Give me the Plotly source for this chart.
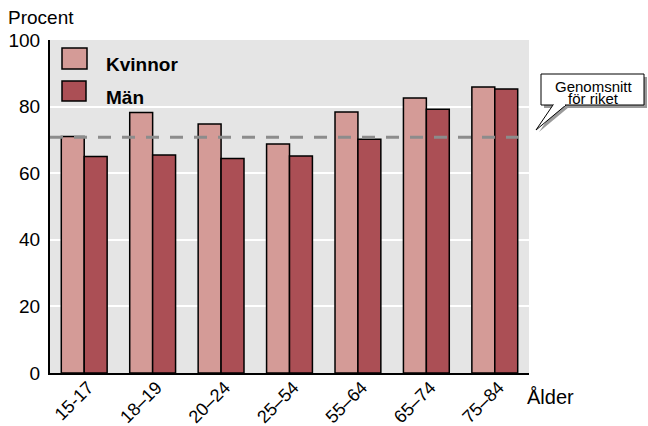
import plotly.graph_objects as go

# Andel per åldersgrupp (procent)
age_groups = ["15-17", "18–19", "20–24", "25–54", "55–64", "65–74", "75–84"]
kvinnor = [71.0, 78.2, 74.8, 68.8, 78.4, 82.6, 85.9]
man = [65.0, 65.5, 64.4, 65.2, 70.2, 79.2, 85.3]
riket = 70.8
y_ticks = [0, 20, 40, 60, 80, 100]

C_KV = "#d49b97"
C_MAN = "#ab4f55"
BG = "#e5e5e5"
FONT = "Liberation Sans, Arial, sans-serif"

W, H = 648, 426
ML, MR, MT, MB = 50, 119, 40, 53
PW, PH = W - ML - MR, H - MT - MB


def px(x):
    return (x - ML) / PW


def py(y):
    return (H - MB - y) / PH


fig = go.Figure()
fig.add_trace(go.Bar(x=age_groups, y=kvinnor, name="Kvinnor",
                     marker=dict(color=C_KV, line=dict(color="black", width=1.5))))
fig.add_trace(go.Bar(x=age_groups, y=man, name="Män",
                     marker=dict(color=C_MAN, line=dict(color="black", width=1.5))))

shapes = [
    # riksgenomsnitt
    dict(type="line", xref="paper", yref="y", x0=0, x1=1, y0=riket, y1=riket,
         line=dict(color="#8c8c8c", width=3, dash="13px,11px"), layer="above"),
    # legend swatches
    dict(type="rect", xref="paper", yref="paper", x0=px(62), x1=px(87), y0=py(69), y1=py(48),
         fillcolor=C_KV, line=dict(color="black", width=1.5)),
    dict(type="rect", xref="paper", yref="paper", x0=px(62), x1=px(86), y0=py(101), y1=py(81),
         fillcolor=C_MAN, line=dict(color="black", width=1.5)),
    # callout shadow
    dict(type="rect", xref="paper", yref="paper", x0=px(544), x1=px(647), y0=py(108), y1=py(77),
         fillcolor="#9a9a9a", line=dict(width=0)),
    dict(type="path", xref="paper", yref="paper",
         path=f"M {px(556)},{py(107)} L {px(539)},{py(132)} L {px(569)},{py(107)} Z",
         fillcolor="#9a9a9a", line=dict(width=0)),
    # callout box
    dict(type="rect", xref="paper", yref="paper", x0=px(541), x1=px(644), y0=py(105), y1=py(74),
         fillcolor="white", line=dict(color="black", width=1)),
    dict(type="path", xref="paper", yref="paper",
         path=f"M {px(553)},{py(105)} L {px(536)},{py(130)} L {px(566)},{py(105)}",
         fillcolor="white", line=dict(color="black", width=1)),
    dict(type="line", xref="paper", yref="paper", x0=px(554), x1=px(565), y0=py(105), y1=py(105),
         line=dict(color="white", width=2)),
]

annotations = [
    dict(text="Procent", xref="paper", yref="paper", x=px(6), y=py(18), xanchor="left",
         yanchor="middle", showarrow=False, font=dict(size=19, color="black", family=FONT)),
    dict(text="Ålder", xref="paper", yref="paper", x=px(525), y=py(397), xanchor="left",
         yanchor="middle", showarrow=False, font=dict(size=20, color="black", family=FONT)),
    dict(text="<b>Kvinnor</b>", xref="paper", yref="paper", x=px(104), y=py(64), xanchor="left",
         yanchor="middle", showarrow=False, font=dict(size=19, color="black", family=FONT)),
    dict(text="<b>Män</b>", xref="paper", yref="paper", x=px(104), y=py(97), xanchor="left",
         yanchor="middle", showarrow=False, font=dict(size=19, color="black", family=FONT)),
    dict(text="Genomsnitt", xref="paper", yref="paper", x=px(594), y=py(86),
         xanchor="center", yanchor="middle", showarrow=False, borderpad=0,
         font=dict(size=15, color="black", family=FONT)),
    dict(text="för riket", xref="paper", yref="paper", x=px(593), y=py(98.5),
         xanchor="center", yanchor="middle", showarrow=False, borderpad=0,
         font=dict(size=15, color="black", family=FONT)),
]

fig.update_layout(
    width=W, height=H,
    margin=dict(l=ML, r=MR, t=MT, b=MB),
    paper_bgcolor="white", plot_bgcolor=BG,
    barmode="group", bargap=0.33, bargroupgap=0,
    showlegend=False,
    font=dict(family=FONT, color="black"),
    shapes=shapes, annotations=annotations,
    xaxis=dict(showgrid=False, showline=True, linecolor="black", linewidth=2,
               tickangle=-45, tickfont=dict(size=18), ticks="", automargin=False,
               ticklabelstandoff=-5, ticklabelshift=4),
    yaxis=dict(range=[0, 100], tickvals=y_ticks, showgrid=True, gridcolor="white", gridwidth=2,
               showline=True, linecolor="black", linewidth=2, zeroline=False,
               tickfont=dict(size=19), ticks="", ticklabelstandoff=4, automargin=False),
)

fig.write_html("out.html")
